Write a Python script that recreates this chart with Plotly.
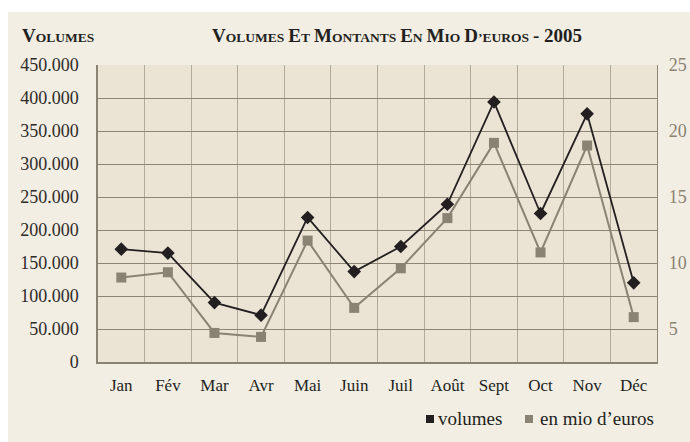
import plotly.graph_objects as go

months = ["Jan", "Fév", "Mar", "Avr", "Mai", "Juin", "Juil", "Août", "Sept", "Oct", "Nov", "Déc"]
volumes = [171000, 165000, 90000, 71000, 219000, 137000, 175000, 239000, 394000, 225000, 376000, 120000]
euros = [8.9, 9.3, 4.7, 4.4, 11.7, 6.6, 9.6, 13.4, 19.1, 10.8, 18.9, 5.9]
left_ticks = list(range(0, 450001, 50000))
right_ticks = [5, 10, 15, 20, 25]

FONT = "Liberation Serif"
DARK = "#231f20"
GREY = "#8a8272"
PAPER = "#f2eee4"
PLOT = "#ebe4d5"
CLEAR = "rgba(0,0,0,0)"

W, H = 690, 442
PL, PR, PT, PB = 98, 657, 65, 362          # plot area in page pixels
L, R, T, B = PL, W - PR, PT, H - PB
pw, ph = PR - PL, PB - PT


def px(x):
    return (x - PL) / pw


def py(y):
    return (PB - y) / ph


fig = go.Figure()
fig.add_trace(go.Scatter(
    x=months, y=volumes, mode="lines+markers", name="volumes",
    line=dict(color=DARK, width=1.8),
    marker=dict(symbol="diamond", size=10.5, color=DARK),
    showlegend=False, yaxis="y"))
fig.add_trace(go.Scatter(
    x=months, y=euros, mode="lines+markers", name="en mio d’euros",
    line=dict(color=GREY, width=2),
    marker=dict(symbol="square", size=10, color=GREY),
    showlegend=False, yaxis="y2"))

BIG, SMALL = 19, 13.5


def b(s):
    return f'<span style="font-size:{BIG}px">{s}</span>'


def s(t):
    return f'<span style="font-size:{SMALL}px">{t}</span>'


title_txt = (b("V") + s("OLUMES") + " " + b("E") + s("T") + " " + b("M") + s("ONTANTS") + " "
             + b("E") + s("N") + " " + b("M") + s("IO") + " " + b("D") + s("’EUROS") + " " + b("- 2005"))
vol_txt = b("V") + s("OLUMES")

annotations = [
    dict(text=f"<b>{vol_txt}</b>", x=px(20), y=py(35), xref="paper", yref="paper",
         xanchor="left", yanchor="middle", showarrow=False,
         font=dict(family=FONT, size=16, color=DARK)),
    dict(text=f"<b>{title_txt}</b>", x=px(397), y=py(35), xref="paper", yref="paper",
         xanchor="center", yanchor="middle", showarrow=False,
         font=dict(family=FONT, size=16, color=DARK)),
    dict(text="volumes", x=px(436), y=py(418), xref="paper", yref="paper",
         xanchor="left", yanchor="middle", showarrow=False,
         font=dict(family=FONT, size=19, color=DARK)),
    dict(text="en mio d’euros", x=px(538), y=py(418), xref="paper", yref="paper",
         xanchor="left", yanchor="middle", showarrow=False,
         font=dict(family=FONT, size=19, color=DARK)),
]

shapes = [
    dict(type="rect", xref="paper", yref="paper", x0=px(-2), x1=px(700), y0=py(12), y1=py(-2),
         fillcolor="white", line=dict(width=0), layer="above"),
    dict(type="rect", xref="paper", yref="paper", x0=px(-2), x1=px(8), y0=py(450), y1=py(-2),
         fillcolor="white", line=dict(width=0), layer="above"),
    dict(type="rect", xref="paper", yref="paper", x0=px(426), x1=px(434), y0=py(423), y1=py(415),
         fillcolor=DARK, line=dict(width=0)),
    dict(type="rect", xref="paper", yref="paper", x0=px(525), x1=px(533), y0=py(423), y1=py(415),
         fillcolor=GREY, line=dict(width=0)),
]

fig.update_layout(
    width=W, height=H,
    margin=dict(l=L, r=R, t=T, b=B, pad=0, autoexpand=False),
    paper_bgcolor=PAPER, plot_bgcolor=PLOT,
    separators=",.",
    font=dict(family=FONT, size=18, color=DARK),
    annotations=annotations, shapes=shapes,
    showlegend=False,
    xaxis=dict(type="category", range=[-0.5, 11.5], tickson="boundaries", automargin=False,
               showgrid=True, gridcolor="#b3aa97", gridwidth=1.2,
               showline=True, linecolor="#8a8272", linewidth=1.5,
               ticks="", ticklabelstandoff=7,
               tickfont=dict(family=FONT, size=17, color=DARK), zeroline=False),
    yaxis=dict(range=[0, 450000], tickvals=left_ticks, tickformat=",d", automargin=False,
               showgrid=True, gridcolor="#8c8474", gridwidth=1.2,
               showline=True, linecolor="#8a8272", linewidth=1.5,
               ticks="outside", ticklen=14, tickcolor=CLEAR, zeroline=False,
               tickfont=dict(family=FONT, size=18, color="#2e2a27")),
    yaxis2=dict(range=[2.5, 25], tickvals=right_ticks, overlaying="y", side="right",
                automargin=False,
                showgrid=False, showline=True, linecolor="#8c8474", linewidth=1.2,
                ticks="outside", ticklen=7, tickcolor=CLEAR, zeroline=False,
                tickfont=dict(family=FONT, size=18, color="#8a8272")),
)

fig.write_html(
    "out.html",
    config={"displayModeBar": False},
    post_script="document.body.style.margin='0';document.body.style.overflow='hidden';",
)
